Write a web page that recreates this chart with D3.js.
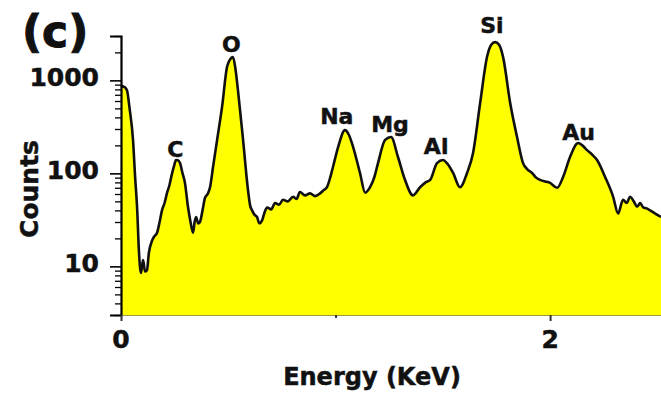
<!DOCTYPE html>
<html>

<head>
    <meta charset="utf-8">
    <title>EDS spectrum (c)</title>
    <style>
        body {
            margin: 0;
            background-color: #ffffff;
        }

        text {
            font-family: "DejaVu Sans", sans-serif;
            font-weight: bold;
            fill: #111111;
            stroke: #111111;
            stroke-width: 0.5px;
        }
    </style>
</head>

<body>
    <script src="https://cdn.jsdelivr.net/npm/d3@7/dist/d3.min.js" charset="utf-8"></script>
    <script type="text/javascript">
        // spectrum: energy (keV) and counts
        var energy = [0.000, 0.010, 0.019, 0.028, 0.040, 0.056, 0.066, 0.075, 0.084, 0.093, 0.098, 0.103, 0.112, 0.121,
            0.130, 0.145, 0.155, 0.168, 0.180, 0.191, 0.203, 0.214, 0.226, 0.238, 0.248, 0.256, 0.265, 0.275, 0.287,
            0.298, 0.312, 0.324, 0.336, 0.343, 0.350, 0.360, 0.368, 0.380, 0.392, 0.404, 0.415, 0.429, 0.448, 0.471,
            0.494, 0.510, 0.522, 0.534, 0.545, 0.569, 0.592, 0.602, 0.611, 0.622, 0.634, 0.645, 0.657, 0.669, 0.681,
            0.700, 0.718, 0.737, 0.755, 0.778, 0.802, 0.818, 0.834, 0.858, 0.881, 0.905, 0.928, 0.945, 0.960, 0.975,
            0.988, 1.012, 1.044, 1.062, 1.082, 1.114, 1.138, 1.161, 1.180, 1.198, 1.231, 1.259, 1.291, 1.324, 1.361,
            1.394, 1.420, 1.441, 1.473, 1.501, 1.520, 1.548, 1.580, 1.613, 1.641, 1.674, 1.706, 1.725, 1.744, 1.763,
            1.781, 1.814, 1.846, 1.874, 1.895, 1.916, 1.935, 1.953, 1.977, 2.000, 2.033, 2.061, 2.093, 2.131, 2.150,
            2.172, 2.195, 2.219, 2.256, 2.294, 2.317, 2.340, 2.357, 2.373, 2.390, 2.406, 2.420, 2.434, 2.450, 2.466,
            2.490, 2.517];
        var counts = [880, 860, 840, 780, 500, 229, 90, 43, 14, 8.5, 10, 11.7, 8.8, 9.1,
            14, 19, 21, 23, 30, 40, 48, 61, 75, 100, 122, 139, 138, 129, 100,
            79, 44, 30, 23, 30, 34, 29, 30, 40, 55, 60, 71, 117, 229, 518,
            1390, 1700, 1780, 1300, 790, 229, 66, 45, 40, 36, 34, 29, 31, 38, 43,
            41, 48, 46, 52, 50, 56, 53, 63, 58, 61, 57, 61, 66, 71, 90,
            117, 192, 292, 260, 192, 101, 62, 71, 90, 129, 229, 246, 150, 85, 58,
            71, 80, 85, 129, 139, 128, 101, 71, 101, 166, 571, 1780, 2400, 2580, 2400,
            1780, 571, 246, 129, 110, 101, 90, 85, 82, 79, 70, 92, 150, 212, 200,
            178, 160, 139, 92, 56, 37, 52, 48, 56, 50, 44, 48, 43, 42, 40,
            37, 34];

        // element labels and their positions on the energy axis
        var peakNames = ["C", "O", "Na", "Mg", "Al", "Si", "Au"];
        var peakEnergy = [0.253, 0.514, 1.006, 1.254, 1.469, 1.729, 2.133];
        var peakLabelCounts = [150, 2000, 340, 280, 162, 3200, 230];

        var yMajor = [10, 100, 1000];
        var yMinor = [3, 4, 5, 6, 7, 8, 9, 20, 30, 40, 50, 60, 70, 80, 90,
            200, 300, 400, 500, 600, 700, 800, 900, 2000, 3000];
        var xMajor = [0, 2];
        var xMinor = [1];

        var width = 661;
        var height = 395;

        var svg = d3.select("body")
            .append("svg")
            .attr("width", width)
            .attr("height", height);

        var x = d3.scaleLinear().domain([0, 2.517]).range([121, 661]);
        var y = d3.scaleLog().domain([3, 3000]).range([315, 36]);

        var spectrum = energy.map(function (e, i) { return { e: e, c: counts[i] }; });

        // yellow filled area under the spectrum
        var area = d3.area()
            .x(function (d) { return x(d.e); })
            .y0(y(3))
            .y1(function (d) { return y(d.c); })
            .curve(d3.curveMonotoneX);

        var line = d3.line()
            .x(function (d) { return x(d.e); })
            .y(function (d) { return y(d.c); })
            .curve(d3.curveMonotoneX);

        svg.append("path")
            .datum(spectrum)
            .attr("d", area)
            .attr("fill", "#ffff00");

        svg.append("path")
            .datum(spectrum)
            .attr("d", line)
            .attr("fill", "none")
            .attr("stroke", "#111111")
            .attr("stroke-width", 2.6)
            .attr("stroke-linejoin", "round");

        // y axis: major + minor ticks
        var yAxisMajor = svg.append("g")
            .attr("transform", "translate(" + x(0) + ",0)")
            .call(d3.axisLeft(y).tickValues(yMajor).tickSize(11).tickFormat(""));
        yAxisMajor.select(".domain").attr("stroke-width", 2.2);
        yAxisMajor.selectAll(".tick line").attr("stroke-width", 1.6);

        var yAxisMinor = svg.append("g")
            .attr("transform", "translate(" + x(0) + ",0)")
            .call(d3.axisLeft(y).tickValues(yMinor).tickSize(6).tickFormat(""));
        yAxisMinor.select(".domain").remove();
        yAxisMinor.selectAll(".tick line").attr("stroke-width", 1.3);

        svg.selectAll(".ylabel")
            .data(yMajor)
            .enter()
            .append("text")
            .attr("class", "ylabel")
            .attr("x", 99)
            .attr("y", function (d) { return y(d) + 6; })
            .attr("text-anchor", "end")
            .style("font-size", "25px")
            .text(function (d) { return d; });

        // x axis
        var xAxis = svg.append("g")
            .attr("transform", "translate(0," + y(3) + ")")
            .call(d3.axisBottom(x).tickValues(xMajor).tickSize(6).tickFormat(""));
        xAxis.select(".domain").attr("stroke", "#9a9a40").attr("stroke-width", 1);
        xAxis.selectAll(".tick line").attr("stroke", "#333333").attr("stroke-width", 2);

        svg.append("g")
            .attr("transform", "translate(0," + y(3) + ")")
            .call(d3.axisBottom(x).tickValues(xMinor).tickSize(3).tickFormat(""))
            .call(function (g) { g.select(".domain").remove(); })
            .selectAll(".tick line").attr("stroke", "#333333").attr("stroke-width", 2);

        svg.selectAll(".xlabel")
            .data(xMajor)
            .enter()
            .append("text")
            .attr("class", "xlabel")
            .attr("x", function (d) { return x(d); })
            .attr("y", 348)
            .attr("text-anchor", "middle")
            .style("font-size", "25px")
            .text(function (d) { return d; });

        // axis titles
        svg.append("text")
            .attr("x", 372)
            .attr("y", 385)
            .attr("text-anchor", "middle")
            .style("font-size", "24px")
            .text("Energy (KeV)");

        svg.append("text")
            .attr("transform", "translate(38,189) rotate(-90)")
            .attr("text-anchor", "middle")
            .style("font-size", "25px")
            .text("Counts");

        // peak labels
        svg.selectAll(".peak")
            .data(peakNames)
            .enter()
            .append("text")
            .attr("class", "peak")
            .attr("x", function (d, i) { return x(peakEnergy[i]); })
            .attr("y", function (d, i) { return y(peakLabelCounts[i]); })
            .attr("text-anchor", "middle")
            .style("font-size", "22px")
            .text(function (d) { return d; });

        // panel letter
        svg.append("text")
            .attr("x", 22)
            .attr("y", 47)
            .style("font-size", "44px")
            .style("stroke-width", "1px")
            .text("(c)");
    </script>
</body>

</html>
